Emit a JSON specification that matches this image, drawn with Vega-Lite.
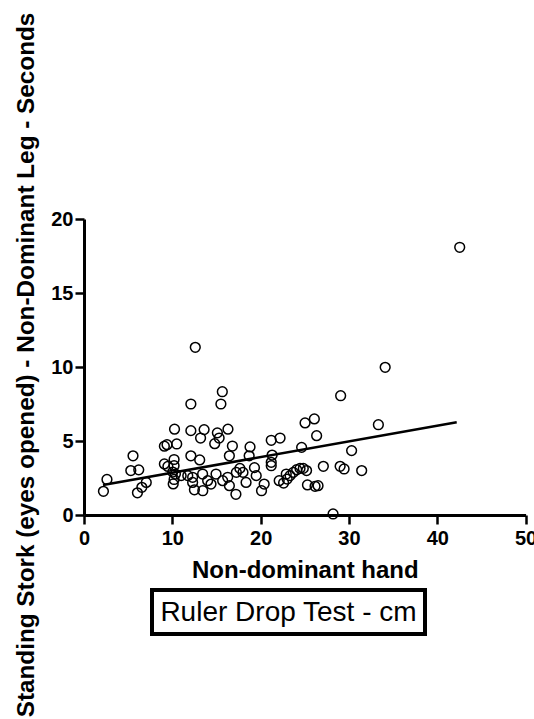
{
  "$schema": "https://vega.github.io/schema/vega-lite/v6.json",
  "padding": {"left": 14, "top": 12, "right": 0, "bottom": 0},
  "config": {
    "font": "Liberation Sans",
    "view": {"stroke": null},
    "concat": {"spacing": 0},
    "axis": {
      "grid": false,
      "domainColor": "black", "domainWidth": 3,
      "tickColor": "black", "tickWidth": 2.5, "tickSize": 9,
      "labelFont": "Liberation Sans", "labelFontWeight": "bold", "labelFontSize": 20, "labelColor": "black",
      "labelOverlap": false, "labelFlush": false,
      "titleFont": "Liberation Sans", "titleFontWeight": "bold", "titleColor": "black"
    },
    "axisX": {"labelPadding": 4, "titlePadding": 10, "titleFontSize": 24},
    "axisY": {"labelPadding": 2, "titlePadding": 12, "titleFontSize": 24.3, "titleY": 145.5}
  },
  "datasets": {
    "points": [
      {"hand": 2.2, "stork": 1.6}, {"hand": 2.6, "stork": 2.4}, {"hand": 5.3, "stork": 3.0}, {"hand": 6.2, "stork": 3.05},
      {"hand": 5.55, "stork": 4.0}, {"hand": 6.05, "stork": 1.5}, {"hand": 6.55, "stork": 1.87}, {"hand": 7.05, "stork": 2.2},
      {"hand": 9.1, "stork": 4.65}, {"hand": 9.4, "stork": 4.75}, {"hand": 9.1, "stork": 3.45}, {"hand": 9.5, "stork": 3.28},
      {"hand": 10.25, "stork": 5.8}, {"hand": 10.5, "stork": 4.8}, {"hand": 10.2, "stork": 3.75}, {"hand": 10.2, "stork": 3.33},
      {"hand": 10.05, "stork": 2.9}, {"hand": 10.35, "stork": 2.77}, {"hand": 10.2, "stork": 2.4}, {"hand": 10.1, "stork": 2.1},
      {"hand": 11.0, "stork": 2.66}, {"hand": 11.75, "stork": 2.66}, {"hand": 12.1, "stork": 7.5}, {"hand": 12.1, "stork": 5.7},
      {"hand": 12.1, "stork": 4.0}, {"hand": 12.3, "stork": 2.2}, {"hand": 12.3, "stork": 2.55}, {"hand": 12.5, "stork": 1.7},
      {"hand": 12.6, "stork": 11.33}, {"hand": 13.1, "stork": 3.72}, {"hand": 13.6, "stork": 5.77}, {"hand": 13.2, "stork": 5.2},
      {"hand": 13.43, "stork": 2.77}, {"hand": 13.45, "stork": 1.64}, {"hand": 14.0, "stork": 2.32}, {"hand": 14.38, "stork": 2.09},
      {"hand": 14.8, "stork": 4.82}, {"hand": 14.95, "stork": 2.77}, {"hand": 15.1, "stork": 5.55}, {"hand": 15.3, "stork": 5.2},
      {"hand": 15.5, "stork": 7.5}, {"hand": 15.66, "stork": 8.33}, {"hand": 15.7, "stork": 2.32}, {"hand": 16.3, "stork": 5.8},
      {"hand": 16.8, "stork": 4.66}, {"hand": 16.46, "stork": 4.0}, {"hand": 16.27, "stork": 2.55}, {"hand": 16.46, "stork": 1.98},
      {"hand": 17.2, "stork": 1.4}, {"hand": 17.25, "stork": 2.88}, {"hand": 17.65, "stork": 3.15}, {"hand": 18.0, "stork": 2.88},
      {"hand": 18.35, "stork": 2.2}, {"hand": 18.8, "stork": 4.6}, {"hand": 18.7, "stork": 4.0}, {"hand": 19.3, "stork": 3.2},
      {"hand": 19.5, "stork": 2.66}, {"hand": 20.1, "stork": 1.64}, {"hand": 20.4, "stork": 2.09}, {"hand": 21.2, "stork": 5.05},
      {"hand": 21.3, "stork": 4.05}, {"hand": 21.2, "stork": 3.56}, {"hand": 21.2, "stork": 3.33}, {"hand": 22.2, "stork": 5.2},
      {"hand": 22.1, "stork": 2.32}, {"hand": 22.9, "stork": 2.77}, {"hand": 22.6, "stork": 2.16}, {"hand": 23.0, "stork": 2.43},
      {"hand": 23.33, "stork": 2.66}, {"hand": 23.7, "stork": 2.88}, {"hand": 24.08, "stork": 3.06}, {"hand": 24.46, "stork": 3.15},
      {"hand": 24.83, "stork": 3.15}, {"hand": 25.2, "stork": 3.0}, {"hand": 24.64, "stork": 4.57}, {"hand": 25.03, "stork": 6.22},
      {"hand": 26.08, "stork": 6.49}, {"hand": 26.34, "stork": 5.36}, {"hand": 25.3, "stork": 2.03}, {"hand": 26.16, "stork": 1.94},
      {"hand": 26.5, "stork": 1.98}, {"hand": 27.1, "stork": 3.29}, {"hand": 28.2, "stork": 0.07}, {"hand": 29.06, "stork": 8.06},
      {"hand": 29.0, "stork": 3.29}, {"hand": 29.45, "stork": 3.11}, {"hand": 30.3, "stork": 4.35}, {"hand": 31.44, "stork": 3.0},
      {"hand": 33.33, "stork": 6.1}, {"hand": 34.1, "stork": 9.98}, {"hand": 42.54, "stork": 18.09}
    ],
    "fit": [
      {"hand": 2.15, "stork": 2.03},
      {"hand": 42.2, "stork": 6.26}
    ],
    "caption": [
      {"text": "Ruler Drop Test - cm"}
    ]
  },
  "vconcat": [
    {
      "width": 441.6,
      "height": 296,
      "layer": [
        {
          "data": {"name": "points"},
          "mark": {"type": "point", "shape": "circle", "filled": false, "color": "black", "size": 95, "strokeWidth": 1.5, "opacity": 1},
          "encoding": {
            "x": {
              "field": "hand", "type": "quantitative",
              "scale": {"domain": [0, 50], "nice": false, "zero": true},
              "axis": {"title": "Non-dominant hand", "values": [0, 10, 20, 30, 40, 50]}
            },
            "y": {
              "field": "stork", "type": "quantitative",
              "scale": {"domain": [0, 20], "nice": false, "zero": true},
              "axis": {"title": "Standing Stork (eyes opened) - Non-Dominant Leg - Seconds", "values": [0, 5, 10, 15, 20]}
            }
          }
        },
        {
          "data": {"name": "fit"},
          "mark": {"type": "line", "color": "black", "strokeWidth": 2.5},
          "encoding": {
            "x": {"field": "hand", "type": "quantitative"},
            "y": {"field": "stork", "type": "quantitative"}
          }
        }
      ]
    },
    {
      "hconcat": [
        {
          "width": 68,
          "height": 44,
          "data": {"values": []},
          "mark": "point",
          "encoding": {}
        },
        {
          "width": 273,
          "height": 44,
          "view": {"stroke": "black", "strokeWidth": 4},
          "data": {"name": "caption"},
          "mark": {"type": "text", "font": "Liberation Sans", "fontSize": 28, "color": "black", "align": "center", "baseline": "middle", "dy": 1},
          "encoding": {"text": {"field": "text"}}
        }
      ],
      "spacing": 0,
      "bounds": "flush"
    }
  ],
  "spacing": 75,
  "bounds": "flush"
}
